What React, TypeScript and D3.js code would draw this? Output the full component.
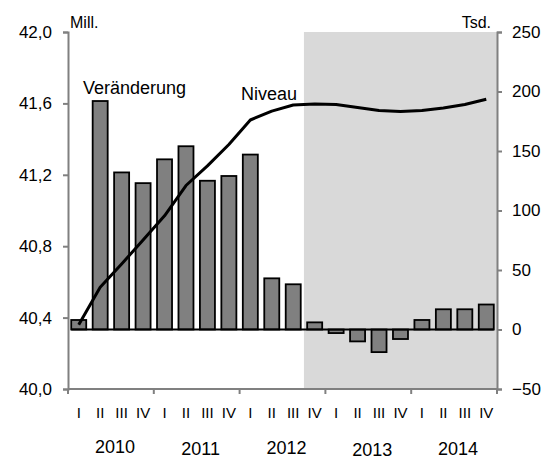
import { useEffect, useRef } from 'react';
import * as d3 from 'd3';

const years = ['2010', '2011', '2012', '2013', '2014'];
const quarterNames = ['I', 'II', 'III', 'IV'];
// change vs previous quarter, thousand persons (right axis)
const change = [8, 192, 132, 123, 143, 154, 125, 129, 147, 43, 38, 6, -3, -10, -19, -8, 8, 17, 17, 21];
// level, million persons (left axis)
const level = [
  40.36, 40.57, 40.7, 40.835, 40.97, 41.14, 41.25, 41.37, 41.507, 41.557, 41.591, 41.597,
  41.594, 41.577, 41.56, 41.555, 41.56, 41.574, 41.594, 41.623,
];
const leftTicks = [40.0, 40.4, 40.8, 41.2, 41.6, 42.0];
const rightTicks = [-50, 0, 50, 100, 150, 200, 250];
const forecastStart = 11; // 2012 Q4

const font = 'Liberation Sans, Arial, sans-serif';

export default function App() {
  const ref = useRef<SVGSVGElement>(null);

  useEffect(() => {
    const svg = d3.select(ref.current);
    svg.selectAll('*').remove();

    const left = 68;
    const right = 497;
    const top = 32;
    const bottom = 389;

    const quarters = years.flatMap(y => quarterNames.map(q => `${q}-${y}`));

    const x = d3
      .scaleBand()
      .domain(quarters)
      .range([left, right])
      .paddingInner(0.3)
      .paddingOuter(0.15);
    const step = x.step();
    const yL = d3.scaleLinear().domain([40, 42]).range([bottom, top]);
    const yR = d3.scaleLinear().domain([-50, 250]).range([bottom, top]);

    // forecast shading
    const shadeX = x(quarters[forecastStart]) - (x.paddingInner() * step) / 2;
    svg
      .append('rect')
      .attr('x', shadeX)
      .attr('y', top)
      .attr('width', right - shadeX)
      .attr('height', bottom - top)
      .attr('fill', '#d9d9d9');

    // bars
    svg
      .selectAll('rect.bar')
      .data(change)
      .enter()
      .append('rect')
      .attr('class', 'bar')
      .attr('x', (d, i) => x(quarters[i]))
      .attr('width', x.bandwidth())
      .attr('y', d => Math.min(yR(d), yR(0)))
      .attr('height', d => Math.abs(yR(d) - yR(0)))
      .attr('fill', '#808080')
      .attr('stroke', '#000')
      .attr('stroke-width', 1.8);

    // zero line
    svg
      .append('line')
      .attr('x1', x(quarters[0]))
      .attr('x2', x(quarters[quarters.length - 1]) + x.bandwidth())
      .attr('y1', yR(0))
      .attr('y2', yR(0))
      .attr('stroke', '#000')
      .attr('stroke-width', 2);

    // level line
    const line = d3
      .line<number>()
      .x((d, i) => x(quarters[i]) + x.bandwidth() / 2)
      .y(d => yL(d));
    svg
      .append('path')
      .datum(level)
      .attr('d', line)
      .attr('fill', 'none')
      .attr('stroke', '#000')
      .attr('stroke-width', 3)
      .attr('stroke-linejoin', 'round');

    // axes
    const axisColor = '#808080';
    const leftAxis = svg
      .append('g')
      .attr('transform', `translate(${left},0)`)
      .call(
        d3
          .axisLeft(yL)
          .tickValues(leftTicks)
          .tickSize(5)
          .tickPadding(11)
          .tickFormat(d => d3.format('.1f')(d as number).replace('.', ','))
      );
    const rightAxis = svg
      .append('g')
      .attr('transform', `translate(${right},0)`)
      .call(d3.axisRight(yR).tickValues(rightTicks).tickSize(5).tickPadding(10));
    const yearBounds = d3.range(0, 21, 4).map(i => left + i * step);
    const bottomAxis = svg.append('g');
    bottomAxis
      .append('line')
      .attr('x1', left)
      .attr('x2', right)
      .attr('y1', bottom)
      .attr('y2', bottom)
      .attr('stroke', axisColor)
      .attr('stroke-width', 2);
    bottomAxis
      .selectAll('line.tick')
      .data(yearBounds)
      .enter()
      .append('line')
      .attr('class', 'tick')
      .attr('x1', d => d)
      .attr('x2', d => d)
      .attr('y1', bottom)
      .attr('y2', bottom + 5)
      .attr('stroke', axisColor)
      .attr('stroke-width', 2);

    [leftAxis, rightAxis].forEach(g => {
      g.select('.domain').attr('stroke', axisColor).attr('stroke-width', 2);
      g.selectAll('.tick line').attr('stroke', axisColor).attr('stroke-width', 2);
      g.selectAll('.tick text')
        .attr('fill', '#000')
        .style('font-family', font)
        .style('font-size', '17px');
    });

    // quarter labels
    svg
      .selectAll('text.q')
      .data(quarters)
      .enter()
      .append('text')
      .attr('class', 'q')
      .attr('x', d => x(d) + x.bandwidth() / 2)
      .attr('y', 418)
      .attr('text-anchor', 'middle')
      .style('font-family', font)
      .style('font-size', '15px')
      .text(d => d.split('-')[0]);

    // year labels (slightly staggered as in the original)
    const yearY = [453, 455, 454, 456, 455];
    svg
      .selectAll('text.yr')
      .data(years)
      .enter()
      .append('text')
      .attr('class', 'yr')
      .attr('x', (d, i) => left + (i * 4 + 2) * step + 4)
      .attr('y', (d, i) => yearY[i])
      .attr('text-anchor', 'middle')
      .style('font-family', font)
      .style('font-size', '18px')
      .text(d => d);

    const label = (t: string, lx: number, ly: number, size: number, anchor = 'start') =>
      svg
        .append('text')
        .attr('x', lx)
        .attr('y', ly)
        .attr('text-anchor', anchor)
        .style('font-family', font)
        .style('font-size', `${size}px`)
        .text(t);

    label('Mill.', 70, 28, 16);
    label('Tsd.', 491, 28, 16, 'end');
    label('Veränderung', 83, 94, 18);
    label('Niveau', 241, 100, 18);
  }, []);

  return (
    <svg
      ref={ref}
      width={545}
      height={461}
      style={{ position: 'absolute', left: 0, top: 0, background: '#fff' }}
    />
  );
}
